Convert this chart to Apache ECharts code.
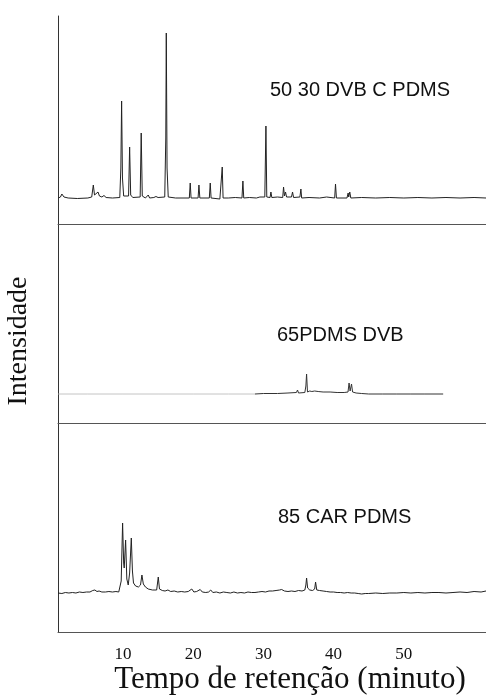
<!DOCTYPE html>
<html>
<head>
<meta charset="utf-8">
<script src="https://cdn.jsdelivr.net/npm/echarts@6/dist/echarts.min.js"></script>
<style>
html,body{margin:0;padding:0;background:#fff;}
#chart{width:486px;height:698px;}
</style>
</head>
<body>
<div id="chart"></div>
<script>
// ---- Data (retention time in minutes, relative intensity) ----
const xTicks = [10, 20, 30, 40, 50];
const panelLabels = ['50 30 DVB C PDMS', '65PDMS DVB', '85 CAR PDMS'];

// Panel 1: 50/30 DVB/CAR/PDMS
const topTimes = [0.8,1.1,1.3,1.6,2.2,3.5,5.0,5.55,5.78,5.95,6.2,6.45,6.65,7.0,7.3,7.6,8.5,9.55,9.7,9.81,9.93,10.1,10.8,10.95,11.1,11.4,12.45,12.6,12.75,13.2,13.6,13.8,14.4,14.7,15.0,15.95,16.1,16.17,16.28,16.45,17.5,19.45,19.58,19.7,20.7,20.82,20.95,22.3,22.43,22.55,23.8,24.0,24.14,24.26,25.0,26.0,26.95,27.08,27.2,28.0,29.0,29.5,30.2,30.36,30.48,30.95,31.07,31.2,32.0,32.75,32.87,33.0,33.15,33.3,34.0,34.15,34.3,35.2,35.34,35.45,36.5,38.0,39.0,40.15,40.27,40.4,41.9,42.07,42.15,42.3,42.45,44,46,48,50,52,54,56,58,60,61.7];
const topValues = [0,1,4,1,0,-0.5,0,1,13,3,2,6,2,1,2.5,0.5,0,0.5,30,97,20,2,2,51,3,0.5,1,65,2,0,3,0,0.5,1.5,0.5,1,60,165,30,1,0,0,15,0,0,13,0,0,15,0,-1,0,31,0,0,0.5,0,17,0,0.5,0,1,1,72,1,0.5,6,0.5,1,0.5,11,2,6,1,1,6,0.5,1,9,0,0.5,0,1,0,14,0,0,5,1,6,0,0.5,0,0.5,0,0.5,0,0.5,0,0.5,0];

// Panel 2: 65 PDMS/DVB (early part faint)
const midEarlyTimes = [0.8,5,10,15,20,25,28.8];
const midEarlyValues = [0,0,0,0,0,0,0];
const midTimes = [28.8,30,32,33.5,34.7,34.86,35.0,35.9,36.05,36.15,36.28,36.6,36.9,37.3,37.57,37.8,38.5,39.5,40.5,41.5,42.05,42.2,42.35,42.55,42.7,43.2,44,45,47,49,51,53,55.6];
const midValues = [0,0.5,0.5,1,1.5,4,1,1.5,8,20,2,3,2.5,3,4,2.5,2,2,1.5,1.5,2,11,3,10,2,1,0.5,0,0,0,0,0,0];

// Panel 3: 85 CAR/PDMS
const botTimes = [0.75,1.3,1.8,2.3,2.8,3.3,3.8,4.3,4.8,5.3,5.7,6.0,6.3,6.6,7.0,7.5,8.0,8.5,9.0,9.4,9.6,9.75,9.95,10.1,10.18,10.38,10.55,10.75,10.95,11.19,11.35,11.5,11.8,12.2,12.5,12.7,12.9,13.2,13.6,14.2,14.8,15.03,15.2,15.6,16.0,16.4,16.8,17.3,17.8,18.3,18.8,19.3,19.8,20.1,20.5,21.0,21.3,21.8,22.2,22.5,22.8,23.3,23.8,24.3,24.8,25.3,25.8,26.3,26.8,27.3,27.8,28.3,28.8,29.3,29.8,30.3,30.8,31.3,31.8,32.3,32.6,33.0,33.5,34.0,34.5,35.0,35.5,35.9,36.05,36.15,36.3,36.6,37.0,37.3,37.43,37.6,38.0,38.5,39.0,39.5,40.0,40.5,41.0,41.5,42.0,42.2,42.5,43.0,43.5,44.0,44.5,45.0,46,47,48,49,50,51,52,53,54,55,56,57,58,59,60,61,61.7];
const botValues = [0,-0.5,0.5,0,0.5,0,1,0.5,1,1,2.5,3,1.5,2,1,1,1.5,1,1.5,1,3,12,70,30,25,53,14,8,20,55,22,10,7,6,8,18,9,6,4,3,3,16,4,2.5,2,3,1.5,2,1,1.5,1,1.5,4,1,1.5,3.5,1,0.5,1,3,0.5,1,0,1,0.5,0,1,0,0.5,0,1,0.5,0.5,1,1.5,1,2,2,2.5,3,3.5,2,1.5,2,1.5,2.5,2,3,8,15,5,3,2.5,4,11,3,2.5,2,1.5,1,1,0.5,0.5,0,0.5,1.5,0,0,-0.5,-1,-0.5,-0.5,0,-0.5,0,0,0.5,0,0.5,0,0.5,0.5,0,0.5,1,0.5,1.5,1,2];

function zip(a, b) { return a.map((t, i) => [t, b[i]]); }

const X_MIN = 0.75, X_MAX = 61.7;
const grids = [
  {left: 58, right: 0, top: 16, height: 208},
  {left: 58, right: 0, top: 224, height: 199},
  {left: 58, right: 0, top: 423, height: 209}
];
const yRanges = [[-26, 182], [-29, 170], [-39, 170]];
const axisColor = '#555';

const xAxes = grids.map((g, i) => ({
  type: 'value', gridIndex: i, min: X_MIN, max: X_MAX,
  axisLine: {show: true, onZero: false, lineStyle: {color: axisColor, width: 1}},
  axisTick: {show: false},
  splitLine: {show: false},
  axisLabel: i === 2 ? {
    show: true, customValues: xTicks, margin: 14,
    fontFamily: 'Liberation Serif', fontSize: 17, color: '#111'
  } : {show: false}
}));
const yAxes = grids.map((g, i) => ({
  type: 'value', gridIndex: i, min: yRanges[i][0], max: yRanges[i][1],
  axisLine: {show: true, onZero: false, lineStyle: {color: '#333', width: 1}},
  axisTick: {show: false}, axisLabel: {show: false}, splitLine: {show: false}
}));

function trace(data, idx, color) {
  return {
    type: 'line', xAxisIndex: idx, yAxisIndex: idx, data: data,
    showSymbol: false, symbol: 'none', silent: true,
    lineStyle: {color: color, width: 1}
  };
}

const chart = echarts.init(document.getElementById('chart'), null, {renderer: 'canvas'});
chart.setOption({
  animation: false,
  backgroundColor: '#fff',
  grid: grids,
  xAxis: xAxes,
  yAxis: yAxes,
  series: [
    trace(zip(topTimes, topValues), 0, '#222'),
    trace(zip(midEarlyTimes, midEarlyValues), 1, '#c4c4c4'),
    trace(zip(midTimes, midValues), 1, '#333'),
    trace(zip(botTimes, botValues), 2, '#222')
  ],
  graphic: [
    {type: 'text', x: 270, y: 90, style: {text: panelLabels[0], font: '20px "Liberation Sans"', fill: '#111', textAlign: 'left', textVerticalAlign: 'middle'}},
    {type: 'text', x: 277, y: 335, style: {text: panelLabels[1], font: '20px "Liberation Sans"', fill: '#111', textAlign: 'left', textVerticalAlign: 'middle'}},
    {type: 'text', x: 278, y: 517, style: {text: panelLabels[2], font: '20px "Liberation Sans"', fill: '#111', textAlign: 'left', textVerticalAlign: 'middle'}},
    {type: 'text', x: 290, y: 680, style: {text: 'Tempo de retenção (minuto)', font: '31px "Liberation Serif"', fill: '#111', textAlign: 'center', textVerticalAlign: 'middle'}},
    {type: 'text', x: 19, y: 341, rotation: Math.PI / 2, style: {text: 'Intensidade', font: '28px "Liberation Serif"', fill: '#111', textAlign: 'center', textVerticalAlign: 'middle'}}
  ]
});
</script>
</body>
</html>
